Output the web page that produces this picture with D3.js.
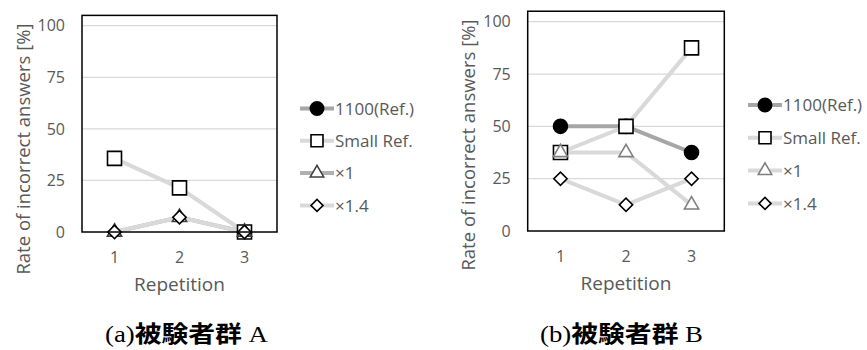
<!DOCTYPE html>
<html><head><meta charset="utf-8">
<script src="https://cdn.jsdelivr.net/npm/d3@7"></script>
<style>body{margin:0;background:#fff}svg{display:block}</style>
</head><body>
<svg id="c" width="867" height="350"></svg>
<script>
const categories = ["1", "2", "3"];
const yTicks = [0, 25, 50, 75, 100];
const seriesNames = ["1100(Ref.)", "Small Ref.", "×1", "×1.4"];
const groupA_ref1100 = [null, null, null];
const groupA_smallRef = [35.7, 21.4, 0];
const groupA_x1 = [0, 7.1, 0];
const groupA_x14 = [0, 7.1, 0];
const groupB_ref1100 = [50, 50, 37.5];
const groupB_smallRef = [37.5, 50, 87.5];
const groupB_x1 = [37.5, 37.5, 12.5];
const groupB_x14 = [25, 12.5, 25];
const yTitle = "Rate of incorrect answers [%]";
const xTitle = "Repetition";
const captionParts = [["(a)", "被験者群", " A"], ["(b)", "被験者群", " B"]];

const svg = d3.select("#c");
const FONT = "'Open Sans', 'Noto Sans', sans-serif";
const TXT = "#595959";

const panels = [
  {left: 82, right: 277, y0: 232, y100: 25.7, legX: 300, legY: 108.5, legDy: 32.3,
   series: [groupA_ref1100, groupA_smallRef, groupA_x1, groupA_x14],
   lineCol: ["#a6a6a6", "#d9d9d9", "#b0b0b0", "#d9d9d9"],
   markStroke: ["#000", "#000", "#404040", "#000"],
   titleX: 24, titleY: 149, cap: captionParts[0], capX0: 105, capX1: 268},
  {left: 527.7, right: 724.3, y0: 231, y100: 21.7, legX: 748, legY: 105, legDy: 32.8,
   series: [groupB_ref1100, groupB_smallRef, groupB_x1, groupB_x14],
   lineCol: ["#a6a6a6", "#d9d9d9", "#d9d9d9", "#d9d9d9"],
   markStroke: ["#000", "#000", "#7f7f7f", "#000"],
   titleX: 469, titleY: 145, cap: captionParts[1], capX0: 540, capX1: 703}
];

const symTypes = [d3.symbolCircle, d3.symbolSquare, d3.symbolTriangle, d3.symbolSquare];
const symSizes = [154, 196, 88, 88];
const symRot = [0, 0, 0, 45];
const legSizes = [140, 144, 78, 72];

panels.forEach(p => {
  const g = svg.append("g");
  const x = d3.scaleBand().domain(categories).range([p.left, p.right]);
  const y = d3.scaleLinear().domain([0, 100]).range([p.y0, p.y100]);
  const top = y(105);

  g.selectAll("line.grid").data(yTicks.filter(t => t > 0)).join("line")
    .attr("x1", p.left).attr("x2", p.right)
    .attr("y1", d => y(d)).attr("y2", d => y(d))
    .attr("stroke", "#d9d9d9").attr("stroke-width", 1.2);

  g.selectAll("text.yt").data(yTicks).join("text")
    .attr("x", p.left - 17).attr("y", d => y(d)).attr("dy", "0.36em")
    .attr("text-anchor", "end").attr("font-family", FONT).attr("font-size", 16)
    .attr("fill", TXT).text(d => d);

  g.selectAll("text.xt").data(categories).join("text")
    .attr("x", d => x(d) + x.bandwidth() / 2).attr("y", p.y0 + 31)
    .attr("text-anchor", "middle").attr("font-family", FONT).attr("font-size", 16)
    .attr("fill", TXT).text(d => d);

  const line = d3.line().defined(d => d != null)
    .x((d, i) => x(categories[i]) + x.bandwidth() / 2).y(d => y(d));
  p.series.forEach((s, si) => {
    g.append("path").attr("d", line(s)).attr("fill", "none")
      .attr("stroke", p.lineCol[si]).attr("stroke-width", 4);
  });
  p.series.forEach((s, si) => {
    g.selectAll(null).data(s.map((v, i) => ({v, i})).filter(d => d.v != null)).join("path")
      .attr("d", d3.symbol().type(symTypes[si]).size(symSizes[si]))
      .attr("transform", d => `translate(${x(categories[d.i]) + x.bandwidth() / 2},${y(d.v)}) rotate(${symRot[si]})`)
      .attr("fill", si === 0 ? "#000" : "#fff")
      .attr("stroke", p.markStroke[si]).attr("stroke-width", 1.6);
  });

  g.append("rect").attr("x", p.left).attr("y", top)
    .attr("width", p.right - p.left).attr("height", p.y0 - top)
    .attr("fill", "none").attr("stroke", "#000").attr("stroke-width", 1.5);

  g.append("text").attr("transform", `translate(${p.titleX},${p.titleY}) rotate(-90)`)
    .attr("text-anchor", "middle").attr("dy", "0.35em")
    .attr("font-family", FONT).attr("font-size", 18.5).attr("fill", TXT).text(yTitle);
  g.append("text").attr("x", (p.left + p.right) / 2).attr("y", p.y0 + 59)
    .attr("text-anchor", "middle").attr("font-family", FONT).attr("font-size", 19)
    .attr("fill", TXT).text(xTitle);

  seriesNames.forEach((nm, si) => {
    const ly = p.legY + si * p.legDy;
    const lg = g.append("g");
    lg.append("line").attr("x1", p.legX).attr("x2", p.legX + 34)
      .attr("y1", ly).attr("y2", ly).attr("stroke", p.lineCol[si]).attr("stroke-width", 4);
    lg.append("path").attr("d", d3.symbol().type(symTypes[si]).size(legSizes[si]))
      .attr("transform", `translate(${p.legX + 17},${ly}) rotate(${symRot[si]})`)
      .attr("fill", si === 0 ? "#000" : "#fff")
      .attr("stroke", p.markStroke[si]).attr("stroke-width", 1.6);
    lg.append("text").attr("x", p.legX + 35).attr("y", ly).attr("dy", "0.36em")
      .attr("font-family", FONT).attr("font-size", 17).attr("fill", TXT).text(nm);
  });

  const cap = svg.append("text").attr("x", p.capX0).attr("y", 342)
    .attr("textLength", p.capX1 - p.capX0).attr("lengthAdjust", "spacingAndGlyphs")
    .attr("font-size", 23).attr("fill", "#000");
  cap.append("tspan").attr("font-family", "'Liberation Serif', serif").text(p.cap[0]);
  cap.append("tspan").attr("font-family", "'Noto Sans CJK JP', sans-serif").attr("font-weight", "bold").text(p.cap[1]);
  cap.append("tspan").attr("font-family", "'Liberation Serif', serif").text(p.cap[2]);
});
</script>
</body></html>
